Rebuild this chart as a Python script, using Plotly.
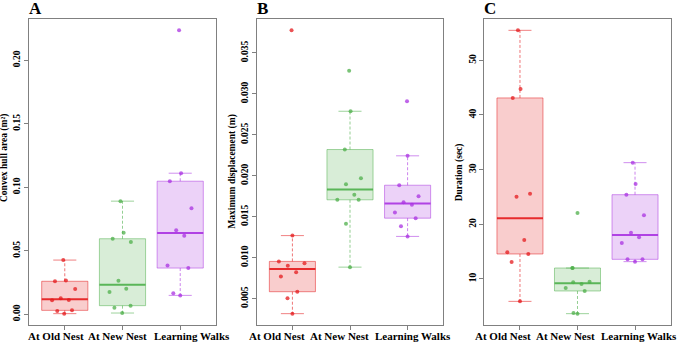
import plotly.graph_objects as go

# ---------------- data ----------------
groups = ["At Old Nest", "At New Nest", "Learning Walks"]

# Panel A: convex hull area (m^2)
area_old = [0.0427, 0.0260, 0.0267, 0.0199, 0.0110, 0.0126, 0.0113, 0.0026, 0.0031, 0.0005]
area_new = [0.0891, 0.0642, 0.0595, 0.0569, 0.0265, 0.0202, 0.0175, 0.0052, 0.0068, 0.0010]
area_lw = [0.2236, 0.1111, 0.1048, 0.0836, 0.0661, 0.0619, 0.0385, 0.0364, 0.0165, 0.0149]

# Panel B: maximum displacement (m)
disp_old = [0.03776, 0.01270, 0.00955, 0.00934, 0.00902, 0.00824, 0.00772, 0.00585, 0.00504, 0.00317]
disp_new = [0.03284, 0.02788, 0.02321, 0.01970, 0.01898, 0.01768, 0.01707, 0.01707, 0.01415, 0.00885]
disp_lw = [0.02910, 0.02244, 0.01885, 0.01751, 0.01678, 0.01646, 0.01552, 0.01483, 0.01385, 0.01260]

# Panel C: duration (sec)
dur_old = [55.49, 44.77, 43.12, 25.61, 25.06, 17.13, 14.87, 14.57, 13.11, 5.90]
dur_new = [22.08, 12.00, 12.00, 9.51, 9.38, 9.08, 8.35, 7.80, 3.78, 3.65]
dur_lw = [31.28, 27.38, 25.42, 21.64, 18.47, 17.62, 16.59, 13.59, 13.59, 13.17]

# horizontal jitter of the points (in category units)
jit_area_old = [-0.026, -0.17, 0.02, 0.18, -0.22, -0.07, 0.07, -0.13, 0.125, -0.01]
jit_area_new = [-0.035, 0.02, -0.17, 0.145, -0.07, 0.065, -0.225, -0.14, 0.14, -0.005]
jit_area_lw = [-0.02, 0.015, -0.18, 0.195, -0.07, 0.07, -0.22, 0.14, -0.12, 0.0]
jit_disp_old = [-0.015, 0.0, -0.235, 0.21, -0.08, 0.065, -0.2, 0.085, -0.085, 0.0]
jit_disp_new = [-0.015, 0.01, -0.09, 0.19, -0.07, 0.075, -0.22, 0.15, -0.07, 0.0]
jit_disp_lw = [-0.01, 0.0, -0.145, 0.19, -0.07, 0.075, -0.22, 0.14, -0.115, 0.0]
jit_dur_old = [-0.035, 0.01, -0.125, 0.175, -0.06, 0.075, -0.22, 0.145, -0.145, 0.0]
jit_dur_new = [0.0, -0.09, -0.085, 0.21, -0.075, 0.07, -0.205, 0.125, -0.07, 0.0]
jit_dur_lw = [-0.04, 0.01, -0.15, 0.155, -0.07, 0.07, -0.23, 0.13, -0.13, 0.0]

area_ticks = [0.00, 0.05, 0.10, 0.15, 0.20]
disp_ticks = [0.005, 0.010, 0.015, 0.020, 0.025, 0.030, 0.035]
dur_ticks = [10, 20, 30, 40, 50]

panels = [
    dict(letter="A", title="Convex hull area (m²)", data=[area_old, area_new, area_lw],
         jit=[jit_area_old, jit_area_new, jit_area_lw], ticks=area_ticks, fmt="{:.2f}", tcy=158.5,
         lab_px=[55.5, 117.5, 192.0]),
    dict(letter="B", title="Maximum displacement (m)", data=[disp_old, disp_new, disp_lw],
         jit=[jit_disp_old, jit_disp_new, jit_disp_lw], ticks=disp_ticks, fmt="{:.3f}", tcy=171.5,
         lab_px=[276.5, 339.5, 413.0]),
    dict(letter="C", title="Duration (sec)", data=[dur_old, dur_new, dur_lw],
         jit=[jit_dur_old, jit_dur_new, jit_dur_lw], ticks=dur_ticks, fmt="{:g}", tcy=172.5,
         lab_px=[503.0, 565.5, 638.5]),
]

# ---------------- style ----------------
W, H = 677, 343
colors = [(228, 26, 28), (77, 175, 74), (170, 50, 225)]
FONT = "Liberation Serif"
frame_col = "#808080"
x_left_px = [29.0, 256.7, 484.3]
x_right_px = [216.0, 443.3, 670.7]
y_top_px, y_bot_px = 19.0, 325.0


def rgba(c, a):
    return f"rgba({c[0]},{c[1]},{c[2]},{a})"


def fivenum(v):
    s = sorted(v)
    n = len(s)

    def med(a):
        m = len(a)
        return a[m // 2] if m % 2 else 0.5 * (a[m // 2 - 1] + a[m // 2])
    half = (n + 1) // 2
    lower, upper = s[:half], s[n - half:]
    return s[0], med(lower), med(s), med(upper), s[-1]


def box_stats(v):
    _, q1, m, q3, _ = fivenum(v)
    iqr = q3 - q1
    lo = min(x for x in v if x >= q1 - 1.5 * iqr)
    hi = max(x for x in v if x <= q3 + 1.5 * iqr)
    return q1, m, q3, lo, hi


fig = go.Figure()
annotations = []
bw = 0.4   # half box width
sw = 0.2   # half staple width

for pi, p in enumerate(panels):
    xa = "x" if pi == 0 else f"x{pi + 1}"
    ya = "y" if pi == 0 else f"y{pi + 1}"
    for gi, vals in enumerate(p["data"]):
        c = colors[gi]
        cx = gi + 1
        q1, m, q3, lo, hi = box_stats(vals)
        # box
        fig.add_trace(go.Scatter(x=[cx - bw, cx + bw, cx + bw, cx - bw, cx - bw],
                                 y=[q1, q1, q3, q3, q1], mode="lines", fill="toself",
                                 fillcolor=rgba(c, 0.22), line=dict(color=rgba(c, 0.5), width=1),
                                 xaxis=xa, yaxis=ya, showlegend=False, hoverinfo="skip"))
        # whiskers (dashed)
        for a, b in [(q3, hi), (q1, lo)]:
            if abs(b - a) > 1e-12:
                fig.add_trace(go.Scatter(x=[cx, cx], y=[a, b], mode="lines",
                                         line=dict(color=rgba(c, 0.6), width=1, dash="3px,2px"),
                                         xaxis=xa, yaxis=ya, showlegend=False, hoverinfo="skip"))
        # staples
        for b in (hi, lo):
            fig.add_trace(go.Scatter(x=[cx - sw, cx + sw], y=[b, b], mode="lines",
                                     line=dict(color=rgba(c, 0.55), width=1),
                                     xaxis=xa, yaxis=ya, showlegend=False, hoverinfo="skip"))
        # median
        fig.add_trace(go.Scatter(x=[cx - bw, cx + bw], y=[m, m], mode="lines",
                                 line=dict(color=rgba(c, 0.9), width=2),
                                 xaxis=xa, yaxis=ya, showlegend=False, hoverinfo="skip"))
        # points
        fig.add_trace(go.Scatter(x=[cx + j for j in p["jit"][gi]], y=vals, mode="markers",
                                 marker=dict(color=rgba(c, 0.75), size=4, line=dict(width=0)),
                                 xaxis=xa, yaxis=ya, showlegend=False, name=groups[gi]))

    allv = [v for g in p["data"] for v in g]
    vmin, vmax = min(allv), max(allv)
    pad = 0.04 * (vmax - vmin)
    dom_x = [x_left_px[pi] / W, x_right_px[pi] / W]
    dom_y = [(H - y_bot_px) / H, (H - y_top_px) / H]
    axis_common = dict(showline=True, linecolor=frame_col, linewidth=1, mirror=True,
                       ticks="outside", ticklen=4, tickcolor=frame_col, showgrid=False,
                       zeroline=False, automargin=False)
    xkey = "xaxis" if pi == 0 else f"xaxis{pi + 1}"
    ykey = "yaxis" if pi == 0 else f"yaxis{pi + 1}"
    fig.update_layout(**{
        xkey: dict(axis_common, domain=dom_x, range=[0.5 - 0.12, 3.5 + 0.12],
                   tickvals=[1, 2, 3], ticktext=groups, showticklabels=False, anchor=ya),
        ykey: dict(axis_common, domain=dom_y, range=[vmin - pad, vmax + pad],
                   tickvals=p["ticks"], ticktext=[f"<b>{p['fmt'].format(t)}</b>" for t in p["ticks"]],
                   tickangle=-90, anchor=xa,
                   tickfont=dict(family=FONT, size=9.5, color="black")),
    })
    # category labels (placed like the original, spread to avoid overlap)
    for gi, g in enumerate(groups):
        annotations.append(dict(text=f"<b>{g}</b>", x=p["lab_px"][gi] / W, y=(H - 336) / H,
                                xref="paper", yref="paper", showarrow=False,
                                font=dict(family=FONT, size=11, color="black"),
                                xanchor="center", yanchor="middle"))
    # panel letter
    annotations.append(dict(text=f"<b>{p['letter']}</b>", x=(x_left_px[pi] + 6) / W, y=(H - 8) / H,
                            xref="paper", yref="paper", showarrow=False,
                            font=dict(family=FONT, size=17, color="black"),
                            xanchor="center", yanchor="middle"))
    # y title
    annotations.append(dict(text=f"<b>{p['title']}</b>", x=(x_left_px[pi] - 24.5) / W,
                            y=(H - p["tcy"]) / H, xref="paper", yref="paper", showarrow=False,
                            textangle=-90, font=dict(family=FONT, size=9.5, color="black"),
                            xanchor="center", yanchor="middle"))

fig.update_layout(width=W, height=H, margin=dict(l=0, r=0, t=0, b=0),
                  plot_bgcolor="white", paper_bgcolor="white", annotations=annotations,
                  showlegend=False)

fig.write_html("out.html", config={"displayModeBar": False},
               post_script="document.body.style.margin='0';document.body.style.overflow='hidden';")
